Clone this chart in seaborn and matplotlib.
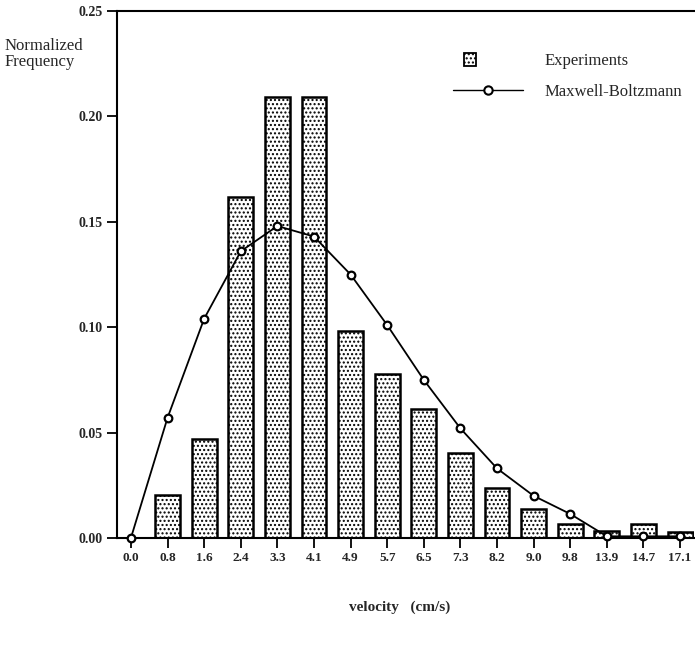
import numpy as np
import pandas as pd
import seaborn as sns
import matplotlib
matplotlib.use("Agg")
import matplotlib.pyplot as plt
from matplotlib.patches import Patch, Rectangle
from matplotlib.lines import Line2D
from matplotlib.legend_handler import HandlerPatch

categories = ["0.0", "0.8", "1.6", "2.4", "3.3", "4.1", "4.9", "5.7", "6.5",
              "7.3", "8.2", "9.0", "9.8", "13.9", "14.7", "17.1"]
experiments = [np.nan, 0.0205, 0.047, 0.162, 0.209, 0.209, 0.098, 0.0776, 0.061,
               0.0405, 0.0238, 0.0138, 0.0067, 0.0033, 0.0067, 0.003]
maxwell = [0.0, 0.057, 0.104, 0.136, 0.148, 0.143, 0.125, 0.101, 0.075,
           0.052, 0.033, 0.020, 0.0114, 0.0008, 0.0008, 0.0008]
yticks = [0.00, 0.05, 0.10, 0.15, 0.20, 0.25]

sns.set_theme(style="white")
plt.rcParams['font.family'] = ['Liberation Serif', 'DejaVu Serif']
plt.rcParams['hatch.linewidth'] = 1.0

df = pd.DataFrame({"velocity": categories, "exp": experiments, "mb": maxwell})

fig = plt.figure(figsize=(6.95, 6.48), dpi=100)
ax = fig.add_axes([117/695, 1 - 538/648, 577/695, 527/648])

sns.barplot(data=df, x="velocity", y="exp", order=categories, ax=ax,
            color="white", edgecolor="black", linewidth=1.8, width=0.68,
            hatch="....", errorbar=None)
for p in ax.patches:
    p.set_facecolor("white")
    p.set_edgecolor("black")
    p.set_hatch("....")

sns.pointplot(data=df, x="velocity", y="mb", order=categories, ax=ax,
              color="black", markers="o", linestyles="-", errorbar=None,
              markersize=5.5, linewidth=1.3)
for ln in ax.lines:
    ln.set_markerfacecolor("white")
    ln.set_markeredgecolor("black")
    ln.set_markeredgewidth(1.6)
    ln.set_zorder(5)
    ln.set_clip_on(False)

ax.set_xlim(-0.38, 15.38)
ax.set_ylim(0, 0.25)
ax.set_yticks(yticks)
ax.set_yticklabels([f"{t:.2f}" for t in yticks], fontweight="bold", fontsize=10)
ax.set_xticks(range(len(categories)))
ax.set_xticklabels(categories, fontweight="bold", fontsize=9.5)
ax.tick_params(axis="both", direction="out", length=7, width=1.3, color="black",
               bottom=True, left=True, pad=3)
ax.set_xlabel("")
ax.set_ylabel("")
for side in ["left", "bottom", "top"]:
    ax.spines[side].set_visible(True)
    ax.spines[side].set_color("black")
    ax.spines[side].set_linewidth(1.5)
ax.spines["right"].set_visible(False)

fig.text(5/695, 1 - 38/648, "Normalized\nFrequency", ha="left", va="top",
         fontsize=12, linespacing=1.0)
fig.text(400/695, 1 - 607/648, "velocity   (cm/s)", ha="center", va="center",
         fontsize=11, fontweight="bold")


def square_patch(legend, orig_handle, xdescent, ydescent, width, height, fontsize):
    s = height * 1.1
    return Rectangle((width / 2 - s / 2 - xdescent - 13, height / 2 - s / 2 - ydescent), s, s)


handles = [Patch(facecolor="white", edgecolor="black", hatch="....", linewidth=1.3),
           Line2D([0], [0], color="black", linewidth=1.0, marker="o",
                  markerfacecolor="white", markeredgecolor="black",
                  markeredgewidth=1.5, markersize=6)]
ax.legend(handles, ["Experiments", "Maxwell-Boltzmann"], loc="upper left",
          bbox_to_anchor=(438/695, 1 - 38/648), bbox_transform=fig.transFigure,
          frameon=False, fontsize=12, handlelength=4.2, handletextpad=1.3,
          labelspacing=0.9,
          handler_map={Patch: HandlerPatch(patch_func=square_patch)})

fig.savefig("out.png", dpi=100, facecolor="white")
